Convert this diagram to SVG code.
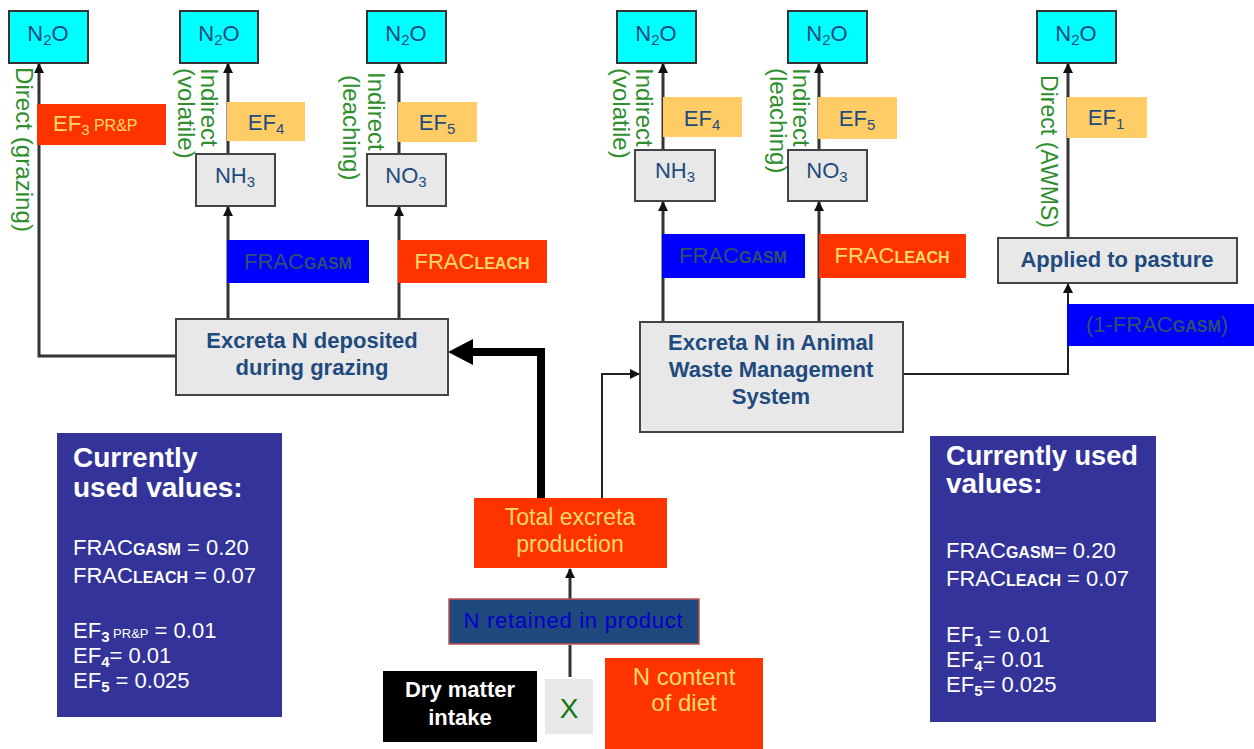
<svg xmlns="http://www.w3.org/2000/svg" width="1254" height="749" viewBox="0 0 1254 749">
<defs>
<style>
text{font-family:"Liberation Sans",Arial,sans-serif}
.n2o{fill:#00FFFF;stroke:#333;stroke-width:2}
.gray{fill:#E8E8E8;stroke:#444;stroke-width:2}
.ef{fill:#FFCC66}
.red{fill:#FF3300}
.blue{fill:#0000FF}
.vals{fill:#333399}
.dk{fill:#1F4A7D}
.yl{fill:#FFD966}
.gr{fill:#2F8F2F;font-size:24px}
.wh{fill:#FFFFFF}
.ln{stroke:#333;stroke-width:3;fill:none}
.thin{stroke:#222;stroke-width:2;fill:none}
</style>
<marker id="ah" viewBox="0 0 10 10" refX="9" refY="5" markerWidth="11" markerHeight="10" markerUnits="userSpaceOnUse" orient="auto"><path d="M0,0 L10,5 L0,10 z" fill="#111"/></marker>
</defs>
<rect width="1254" height="749" fill="#FFFFFF"/>

<g id="connectors">
<path class="ln" d="M176,356 H39 V64" marker-end="url(#ah)"/>
<path class="ln" d="M228,319 V207" marker-end="url(#ah)"/>
<path class="ln" d="M228,154 V64" marker-end="url(#ah)"/>
<path class="ln" d="M399,319 V207" marker-end="url(#ah)"/>
<path class="ln" d="M399,154 V64" marker-end="url(#ah)"/>
<path class="ln" d="M663,322 V202" marker-end="url(#ah)"/>
<path class="ln" d="M663,150 V64" marker-end="url(#ah)"/>
<path class="ln" d="M819,322 V202" marker-end="url(#ah)"/>
<path class="ln" d="M819,150 V64" marker-end="url(#ah)"/>
<path class="ln" d="M1068,238 V64" marker-end="url(#ah)"/>
<path class="thin" d="M903,374 H1068 V284" marker-end="url(#ah)"/>
<path class="thin" d="M602,498 V374 H639" marker-end="url(#ah)"/>
<path d="M541,498 V352 H468" stroke="#000" stroke-width="8" fill="none"/>
<polygon points="448,352 473,339 473,365" fill="#000"/>
<path class="ln" d="M570,677 V645"/>
<path class="ln" d="M570,599 V569" marker-end="url(#ah)"/>
</g>

<g id="n2o1"><rect class="n2o" x="9" y="11" width="79" height="52"/><text x="48" y="41" text-anchor="middle" class="dk" font-size="22">N<tspan font-size="15" dy="4">2</tspan><tspan dy="-4">O</tspan></text></g>
<g id="n2o2"><rect class="n2o" x="180" y="11" width="78" height="52"/><text x="219" y="41" text-anchor="middle" class="dk" font-size="22">N<tspan font-size="15" dy="4">2</tspan><tspan dy="-4">O</tspan></text></g>
<g id="n2o3"><rect class="n2o" x="367" y="11" width="79" height="52"/><text x="406" y="41" text-anchor="middle" class="dk" font-size="22">N<tspan font-size="15" dy="4">2</tspan><tspan dy="-4">O</tspan></text></g>
<g id="n2o4"><rect class="n2o" x="617" y="11" width="79" height="52"/><text x="656" y="41" text-anchor="middle" class="dk" font-size="22">N<tspan font-size="15" dy="4">2</tspan><tspan dy="-4">O</tspan></text></g>
<g id="n2o5"><rect class="n2o" x="788" y="11" width="79" height="52"/><text x="827" y="41" text-anchor="middle" class="dk" font-size="22">N<tspan font-size="15" dy="4">2</tspan><tspan dy="-4">O</tspan></text></g>
<g id="n2o6"><rect class="n2o" x="1037" y="11" width="79" height="52"/><text x="1076" y="41" text-anchor="middle" class="dk" font-size="22">N<tspan font-size="15" dy="4">2</tspan><tspan dy="-4">O</tspan></text></g>

<g id="lbl-direct-grazing"><text class="gr" transform="translate(16,67) rotate(90)" textLength="165" lengthAdjust="spacingAndGlyphs">Direct (grazing)</text></g>
<g id="lbl-volatile-left"><text class="gr" transform="translate(201,68) rotate(90)">Indirect</text><text class="gr" transform="translate(178,68) rotate(90)">(volatile)</text></g>
<g id="lbl-leaching-left"><text class="gr" transform="translate(368,72) rotate(90)">Indirect</text><text class="gr" transform="translate(343,75) rotate(90)">(leaching)</text></g>
<g id="lbl-volatile-right"><text class="gr" transform="translate(636,68) rotate(90)">Indirect</text><text class="gr" transform="translate(613,68) rotate(90)">(volatile)</text></g>
<g id="lbl-leaching-right"><text class="gr" transform="translate(793,68) rotate(90)">Indirect</text><text class="gr" transform="translate(770,68) rotate(90)">(leaching)</text></g>
<g id="lbl-direct-awms"><text class="gr" transform="translate(1041,75) rotate(90)" textLength="153" lengthAdjust="spacingAndGlyphs">Direct (AWMS)</text></g>

<g id="ef3"><rect class="red" x="37" y="104" width="129" height="41"/><text x="53" y="131" class="yl" font-size="22">EF<tspan font-size="15" dy="4">3</tspan><tspan font-size="16" dy="-4"> PR&amp;P</tspan></text></g>
<g id="ef4-left"><rect class="ef" x="227" y="102" width="78" height="39"/><text x="266" y="130" text-anchor="middle" class="dk" font-size="22">EF<tspan font-size="15" dy="4">4</tspan></text></g>
<g id="ef5-left"><rect class="ef" x="398" y="102" width="79" height="40"/><text x="437" y="130" text-anchor="middle" class="dk" font-size="22">EF<tspan font-size="15" dy="4">5</tspan></text></g>
<g id="ef4-right"><rect class="ef" x="663" y="97" width="79" height="40"/><text x="702" y="126" text-anchor="middle" class="dk" font-size="22">EF<tspan font-size="15" dy="4">4</tspan></text></g>
<g id="ef5-right"><rect class="ef" x="818" y="97" width="79" height="42"/><text x="857" y="126" text-anchor="middle" class="dk" font-size="22">EF<tspan font-size="15" dy="4">5</tspan></text></g>
<g id="ef1"><rect class="ef" x="1067" y="97" width="80" height="41"/><text x="1106" y="125" text-anchor="middle" class="dk" font-size="22">EF<tspan font-size="15" dy="4">1</tspan></text></g>

<g id="nh3-left"><rect class="gray" x="196" y="154" width="79" height="52"/><text x="235" y="183" text-anchor="middle" class="dk" font-size="22">NH<tspan font-size="15" dy="4">3</tspan></text></g>
<g id="no3-left"><rect class="gray" x="367" y="154" width="79" height="52"/><text x="406" y="183" text-anchor="middle" class="dk" font-size="22">NO<tspan font-size="15" dy="4">3</tspan></text></g>
<g id="nh3-right"><rect class="gray" x="635" y="150" width="80" height="51"/><text x="675" y="178" text-anchor="middle" class="dk" font-size="22">NH<tspan font-size="15" dy="4">3</tspan></text></g>
<g id="no3-right"><rect class="gray" x="788" y="150" width="79" height="51"/><text x="827" y="178" text-anchor="middle" class="dk" font-size="22">NO<tspan font-size="15" dy="4">3</tspan></text></g>

<g id="fracgasm-left"><rect class="blue" x="227" y="240" width="142" height="43"/><text x="298" y="269" text-anchor="middle" fill="#2F4F6F" font-size="22">FRAC<tspan font-size="16" font-weight="bold">GASM</tspan></text></g>
<g id="fracleach-left"><rect class="red" x="398" y="240" width="149" height="43"/><text x="472" y="269" text-anchor="middle" class="yl" font-size="22">FRAC<tspan font-size="16" font-weight="bold">LEACH</tspan></text></g>
<g id="fracgasm-right"><rect class="blue" x="662" y="234" width="143" height="44"/><text x="733" y="263" text-anchor="middle" fill="#2F4F6F" font-size="22">FRAC<tspan font-size="16" font-weight="bold">GASM</tspan></text></g>
<g id="fracleach-right"><rect class="red" x="819" y="234" width="147" height="44"/><text x="892" y="263" text-anchor="middle" class="yl" font-size="22">FRAC<tspan font-size="16" font-weight="bold">LEACH</tspan></text></g>
<g id="one-minus-fracgasm"><rect class="blue" x="1067" y="304" width="187" height="42"/><text x="1157" y="332" text-anchor="middle" fill="#2F4F6F" font-size="22">(1-FRAC<tspan font-size="16" font-weight="bold">GASM</tspan>)</text></g>

<g id="applied"><rect class="gray" x="998" y="238" width="239" height="45"/><text x="1117" y="267" text-anchor="middle" class="dk" font-size="22" font-weight="bold">Applied to pasture</text></g>
<g id="excreta-grazing"><rect class="gray" x="176" y="319" width="272" height="76"/><text x="312" y="348" text-anchor="middle" class="dk" font-size="22" font-weight="bold">Excreta N deposited</text><text x="312" y="375" text-anchor="middle" class="dk" font-size="22" font-weight="bold">during grazing</text></g>
<g id="excreta-awms"><rect class="gray" x="640" y="322" width="263" height="110"/><text x="771" y="350" text-anchor="middle" class="dk" font-size="22" font-weight="bold">Excreta N in Animal</text><text x="771" y="377" text-anchor="middle" class="dk" font-size="22" font-weight="bold">Waste Management</text><text x="771" y="404" text-anchor="middle" class="dk" font-size="22" font-weight="bold">System</text></g>

<g id="total-excreta"><rect class="red" x="474" y="498" width="193" height="70"/><text x="570" y="525" text-anchor="middle" class="yl" font-size="23">Total excreta</text><text x="570" y="552" text-anchor="middle" class="yl" font-size="23">production</text></g>
<g id="n-retained"><rect x="449" y="599" width="250" height="45" fill="#1F497D" stroke="#C0504D" stroke-width="1.5"/><text x="573" y="628" text-anchor="middle" fill="#0000CC" font-size="22" textLength="219" lengthAdjust="spacing">N retained in product</text></g>
<g id="dry-matter"><rect x="383" y="671" width="154" height="71" fill="#000"/><text x="460" y="697" text-anchor="middle" class="wh" font-size="22" font-weight="bold">Dry matter</text><text x="460" y="725" text-anchor="middle" class="wh" font-size="22" font-weight="bold">intake</text></g>
<g id="times"><rect x="545" y="679" width="48" height="55" fill="#E8E8E8"/><text x="569" y="718" text-anchor="middle" fill="#117711" font-size="28">X</text></g>
<g id="n-content"><rect class="red" x="605" y="658" width="158" height="91"/><text x="684" y="685" text-anchor="middle" class="yl" font-size="24">N content</text><text x="684" y="711" text-anchor="middle" class="yl" font-size="24">of diet</text></g>

<g id="values-left"><rect class="vals" x="57" y="433" width="225" height="284"/>
<text x="73" y="467" class="wh" font-size="28" font-weight="bold">Currently</text>
<text x="73" y="497" class="wh" font-size="28" font-weight="bold">used values:</text>
<text x="73" y="555" class="wh" font-size="22">FRAC<tspan font-size="16" font-weight="bold">GASM</tspan> = 0.20</text>
<text x="73" y="583" class="wh" font-size="22">FRAC<tspan font-size="16" font-weight="bold">LEACH</tspan> = 0.07</text>
<text x="73" y="638" class="wh" font-size="22">EF<tspan font-size="15" font-weight="bold" dy="4">3</tspan><tspan font-size="13" dy="-4"> PR&amp;P</tspan> = 0.01</text>
<text x="73" y="663" class="wh" font-size="22">EF<tspan font-size="15" font-weight="bold" dy="4">4</tspan><tspan dy="-4">= 0.01</tspan></text>
<text x="73" y="688" class="wh" font-size="22">EF<tspan font-size="15" font-weight="bold" dy="4">5</tspan><tspan dy="-4"> = 0.025</tspan></text>
</g>
<g id="values-right"><rect class="vals" x="930" y="436" width="226" height="286"/>
<text x="946" y="465" class="wh" font-size="28" font-weight="bold" textLength="192" lengthAdjust="spacingAndGlyphs">Currently used</text>
<text x="946" y="493" class="wh" font-size="28" font-weight="bold">values:</text>
<text x="946" y="558" class="wh" font-size="22">FRAC<tspan font-size="16" font-weight="bold">GASM</tspan>= 0.20</text>
<text x="946" y="586" class="wh" font-size="22">FRAC<tspan font-size="16" font-weight="bold">LEACH</tspan> = 0.07</text>
<text x="946" y="642" class="wh" font-size="22">EF<tspan font-size="15" font-weight="bold" dy="4">1</tspan><tspan dy="-4"> = 0.01</tspan></text>
<text x="946" y="667" class="wh" font-size="22">EF<tspan font-size="15" font-weight="bold" dy="4">4</tspan><tspan dy="-4">= 0.01</tspan></text>
<text x="946" y="692" class="wh" font-size="22">EF<tspan font-size="15" font-weight="bold" dy="4">5</tspan><tspan dy="-4">= 0.025</tspan></text>
</g>
</svg>
